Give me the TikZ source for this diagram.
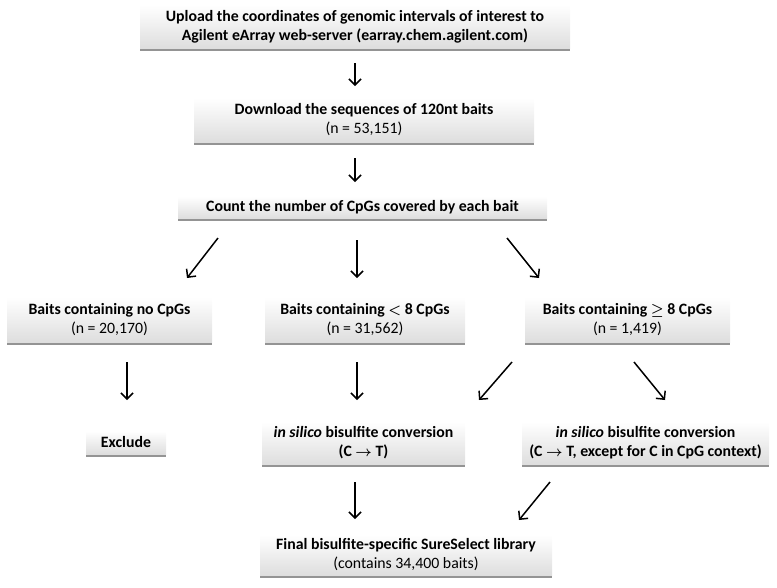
\documentclass[tikz,border=0pt]{standalone}
\usepackage{fontspec}
\setmainfont{Carlito}
\usetikzlibrary{arrows.meta,shadows}
\begin{document}
\begin{tikzpicture}[x=1pt,y=-1pt,
  box/.style={draw=none,top color=white,bottom color=black!13,
    drop shadow={shadow xshift=0pt,shadow yshift=-2.5pt,opacity=0.6,fill=black!70},
    align=center,inner sep=0pt,font=\fontsize{15.8}{19}\selectfont},
  arr/.style={line width=1.5pt,-{Straight Barb[length=6pt,width=12pt,line width=1.5pt]}}]
\useasboundingbox (0,0) rectangle (777,587);
\node[box,minimum width=430pt,minimum height=43pt] (b1) at (355,26.5)
  {\textbf{Upload the coordinates of genomic intervals of interest to}\\\textbf{Agilent eArray web-server (earray.chem.agilent.com)}};
\node[box,minimum width=340pt,minimum height=44pt] (b2) at (364,120)
  {\textbf{Download the sequences of 120nt baits}\\(n = 53,151)};
\node[box,minimum width=369pt,minimum height=22pt] (b3) at (362.5,207.5)
  {\textbf{Count the number of CpGs covered by each bait}};
\node[box,minimum width=205pt,minimum height=45pt] (bA) at (109.5,319.5)
  {\textbf{Baits containing no CpGs}\\(n = 20,170)};
\node[box,minimum width=200pt,minimum height=45pt] (bB) at (365,319.5)
  {\textbf{Baits containing {\boldmath$<$} 8 CpGs}\\(n = 31,562)};
\node[box,minimum width=205pt,minimum height=45pt] (bC) at (627.5,319.5)
  {\textbf{Baits containing {\boldmath$\geq$} 8 CpGs}\\(n = 1,419)};
\node[box,minimum width=80pt,minimum height=23pt] (bX) at (126,442.5)
  {\textbf{Exclude}};
\node[box,minimum width=203pt,minimum height=42pt] (bD) at (363.5,443)
  {\textbf{\textit{in silico} bisulfite conversion}\\\textbf{(C {\boldmath$\rightarrow$} T)}};
\node[box,minimum width=247pt,minimum height=42pt] (bE) at (645.5,443)
  {\textbf{\textit{in silico} bisulfite conversion}\\\textbf{(C {\boldmath$\rightarrow$} T, except for C in CpG context)}};
\node[box,minimum width=292pt,minimum height=40pt] (bF) at (406,555)
  {\textbf{Final bisulfite-specific SureSelect library}\\(contains 34,400 baits)};
% arrow endpoints
\coordinate (a1s) at (355,63);  \coordinate (a1e) at (355,86);
\coordinate (a2s) at (355,158); \coordinate (a2e) at (355,182);
\coordinate (a3s) at (218,238); \coordinate (a3e) at (187,278);
\coordinate (a4s) at (357,240); \coordinate (a4e) at (357,278);
\coordinate (a5s) at (507,238); \coordinate (a5e) at (539,278);
\coordinate (a6s) at (127,362); \coordinate (a6e) at (127,400);
\coordinate (a7s) at (357,362); \coordinate (a7e) at (357,400);
\coordinate (a8s) at (512,362); \coordinate (a8e) at (479,400);
\coordinate (a9s) at (634,362); \coordinate (a9e) at (665,400);
\coordinate (a10s) at (355,482); \coordinate (a10e) at (355,519);
\coordinate (a11s) at (550,482); \coordinate (a11e) at (519,520);
\foreach \i in {1,...,11} \draw[arr] (a\i s) -- (a\i e);
\end{tikzpicture}
\end{document}
